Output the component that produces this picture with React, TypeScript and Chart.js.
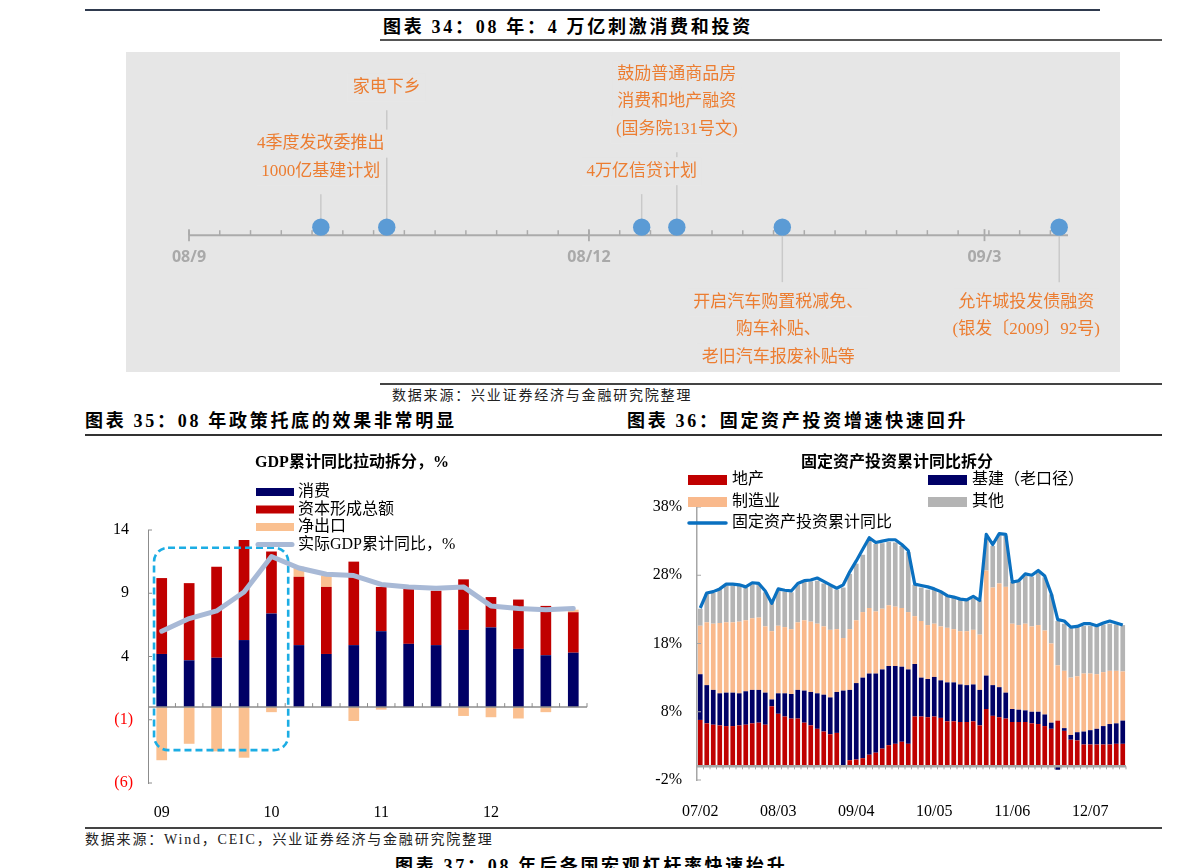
import React, { useEffect, useRef } from "react";
import { Chart, registerables } from "chart.js";

Chart.register(...registerables);

/* ================= Data: 图表34 timeline ================= */
const TIMELINE_START = "2008-09-01";
const TIMELINE_END = "2009-03-20";
const TIMELINE_MAJOR_DATES = ["2008-09-01", "2008-12-01", "2009-03-01"];
const TIMELINE_MAJOR_LABELS = ["08/9", "08/12", "09/3"];
const EVENT_DATES = ["2008-10-01", "2008-10-16", "2008-12-13", "2008-12-21", "2009-01-14", "2009-03-18"];
const EVENT_TEXTS = [
  ["4季度发改委推出", "1000亿基建计划"],
  ["家电下乡"],
  ["4万亿信贷计划"],
  ["鼓励普通商品房", "消费和地产融资", "(国务院131号文)"],
  ["开启汽车购置税减免、", "购车补贴、", "老旧汽车报废补贴等"],
  ["允许城投发债融资", "(银发〔2009〕92号)"],
];

/* ================= Data: 图表35 GDP ================= */
const GDP_QUARTERS = [
  "09Q1", "09Q2", "09Q3", "09Q4", "10Q1", "10Q2", "10Q3", "10Q4",
  "11Q1", "11Q2", "11Q3", "11Q4", "12Q1", "12Q2", "12Q3", "12Q4",
];
const CONSUMPTION = [4.2, 3.7, 3.9, 5.3, 7.4, 4.9, 4.2, 4.9, 6.0, 5.0, 4.9, 6.1, 6.3, 4.6, 4.1, 4.3];
const CAPITAL = [6.0, 6.1, 7.2, 7.9, 4.9, 5.4, 5.3, 6.6, 3.5, 4.4, 4.3, 4.0, 2.4, 3.9, 3.9, 3.2];
const NET_EXPORT = [-4.2, -2.9, -3.5, -4.0, -0.4, 0.8, 0.9, -1.1, -0.2, 0, 0, -0.7, -0.8, -0.9, -0.4, 0.2];
const GDP_YOY = [6.0, 7.0, 7.6, 9.1, 11.9, 11.0, 10.5, 10.4, 9.7, 9.5, 9.4, 9.5, 8.0, 7.8, 7.7, 7.8];
const GDP_Y_MIN = -6;
const GDP_Y_MAX = 14;
const GDP_Y_STEP = 5;
const GDP_HIGHLIGHT = { first: 0, last: 4, top: 12.6, bottom: -3.4 };

/* ================= Data: 图表36 FAI ================= */
const FAI_YEARS = ["07", "08", "09", "10", "11", "12"];
const FAI_MONTHS = ["02", "03", "04", "05", "06", "07", "08", "09", "10", "11", "12"];
const FAI_LABELS = FAI_YEARS.flatMap((y) => FAI_MONTHS.map((m) => `${y}/${m}`));
const REAL_ESTATE = [
  6.8, 6.3, 6.1, 6.0, 5.9, 5.9, 6.0, 6.1, 6.3, 6.4, 6.1,
  8.8, 7.7, 7.3, 7.0, 7.0, 6.4, 6.0, 5.5, 5.1, 4.7, 4.9,
  0.1, 0.9, 1.0, 1.2, 1.7, 2.0, 2.6, 3.1, 3.3, 3.6, 3.3,
  7.3, 7.3, 7.2, 7.3, 7.1, 6.6, 6.6, 6.5, 6.5, 6.6, 6.0,
  8.4, 7.4, 7.2, 7.0, 6.5, 6.5, 6.5, 6.3, 6.2, 5.9, 5.5,
  6.7, 5.2, 3.9, 3.8, 3.2, 3.2, 3.2, 3.2, 3.2, 3.3, 3.3,
];
const INFRA = [
  6.7, 5.6, 5.1, 4.7, 4.9, 4.9, 4.7, 4.9, 4.9, 4.8, 4.7,
  1.0, 3.0, 3.4, 3.6, 4.2, 4.7, 4.9, 5.2, 5.4, 5.4, 6.0,
  11.0, 10.3, 11.2, 11.8, 11.9, 11.6, 11.6, 11.6, 11.4, 11.0, 10.9,
  7.7, 5.7, 5.6, 5.8, 5.5, 5.7, 5.7, 5.5, 5.4, 5.4, 5.2,
  4.9, 4.5, 4.4, 3.8, 1.9, 1.8, 1.7, 1.7, 1.8, 1.7, 0.9,
  -0.5, 0.4, 0.7, 1.2, 1.9, 2.1, 2.3, 2.7, 3.0, 3.0, 3.4,
];
const MANUFACTURING = [
  7.1, 9.2, 9.7, 10.3, 10.3, 10.3, 10.5, 10.4, 10.5, 10.6, 9.7,
  10.0, 9.9, 9.7, 9.5, 9.9, 10.3, 10.3, 10.2, 10.0, 9.9, 9.2,
  7.7, 8.9, 9.2, 9.6, 9.6, 9.1, 8.9, 8.9, 8.7, 8.6, 8.4,
  7.0, 8.3, 7.9, 7.8, 7.9, 8.0, 7.8, 7.8, 7.9, 8.0, 8.1,
  15.4, 14.3, 15.2, 15.5, 12.5, 12.4, 12.7, 12.5, 12.7, 12.3, 11.6,
  8.1, 8.4, 8.4, 8.2, 8.5, 8.3, 8.0, 7.9, 7.8, 7.7, 7.2,
];
const OTHER = [
  2.5, 4.2, 4.5, 5.0, 5.4, 5.4, 5.4, 4.8, 5.0, 4.9, 5.0,
  4.3, 5.3, 5.2, 5.4, 5.5, 5.6, 5.9, 6.3, 6.3, 6.5, 5.8,
  7.4, 8.1, 8.3, 8.4, 10.0, 9.9, 9.6, 9.3, 9.4, 9.1, 8.8,
  4.6, 4.9, 5.2, 5.0, 5.0, 4.7, 4.7, 4.7, 4.6, 4.6, 5.0,
  4.7, 6.1, 7.2, 7.5, 6.1, 6.4, 7.0, 7.3, 7.7, 7.8, 7.2,
  6.5, 6.9, 7.3, 7.2, 7.0, 7.0, 7.0, 7.0, 6.9, 6.8, 6.8,
];
const FAI_YOY = [
  23.2, 25.4, 25.6, 26.0, 26.7, 26.7, 26.6, 26.3, 26.9, 26.8, 25.7,
  23.9, 26.0, 25.8, 25.7, 26.8, 27.2, 27.3, 27.6, 27.1, 26.6, 26.1,
  26.6, 28.5, 30.1, 31.8, 33.5, 32.8, 33.0, 33.2, 33.2, 32.5, 31.6,
  26.7, 26.5, 26.3, 26.0, 25.6, 25.0, 24.8, 24.5, 24.4, 24.9, 24.3,
  34.0, 32.5, 34.1, 34.0, 27.0, 27.2, 28.2, 28.0, 28.7, 27.9, 25.3,
  21.5, 21.3, 20.4, 20.5, 20.9, 20.9, 20.6, 21.0, 21.3, 21.0, 20.7,
];
const FAI_Y_MIN = -2;
const FAI_Y_MAX = 38;
const FAI_Y_STEP = 10;
const FAI_LABEL_EVERY = 12;

/* ================= Styles ================= */
const SERIF = "'Liberation Serif', 'Noto Sans CJK SC', serif";
const BOX_BG = "#E6E6E6";
const ORANGE = "#EC7D31";
const DOT = "#5B9BD5";
const NAVY = "#000066";
const RED = "#C00000";
const PEACH = "#FAC090";
const PEACH2 = "#F9B98C";
const GRAY = "#B4B4B4";
const GDP_LINE = "#A8B9D6";
const FAI_LINE = "#0A70C0";

const EVENT_LAYOUT = [
  { side: "up", offset: 56, dx: 0 },
  { side: "up", offset: 140, dx: 0 },
  { side: "up", offset: 56, dx: 0 },
  { side: "up", offset: 98, dx: 0 },
  { side: "down", offset: 75, dx: -4 },
  { side: "down", offset: 75, dx: -33 },
];
const EVENT_LINE_H = 27.5;

/* ================= Timeline ================= */
function TimelineChart() {
  const ref = useRef<HTMLCanvasElement | null>(null);
  useEffect(() => {
    if (!ref.current) return;
    const t0 = Date.parse(TIMELINE_START);
    const toDay = (d: string) => (Date.parse(d) - t0) / 86400000;
    const endDay = toDay(TIMELINE_END);

    const decor = {
      id: "timelineDecor",
      beforeDatasetsDraw(chart: any) {
        const { ctx } = chart;
        const xs = chart.scales.x;
        const ys = chart.scales.y;
        const dotY = ys.getPixelForValue(0);
        const lineY = dotY + 8;
        ctx.save();
        ctx.strokeStyle = "#ABABAB";
        ctx.lineWidth = 2;
        ctx.beginPath();
        ctx.moveTo(xs.getPixelForValue(0), lineY);
        ctx.lineTo(xs.getPixelForValue(endDay), lineY);
        ctx.stroke();
        ctx.lineWidth = 1.5;
        for (let d = 0; d <= endDay; d += 7) {
          const x = xs.getPixelForValue(d);
          ctx.beginPath();
          ctx.moveTo(x, lineY - 5);
          ctx.lineTo(x, lineY);
          ctx.stroke();
        }
        ctx.font = "bold 16px 'Open Sans', 'Noto Sans', sans-serif";
        ctx.fillStyle = "#A9A9A9";
        ctx.textAlign = "center";
        ctx.textBaseline = "middle";
        TIMELINE_MAJOR_DATES.forEach((dt, i) => {
          const x = xs.getPixelForValue(toDay(dt));
          ctx.lineWidth = 1.8;
          ctx.beginPath();
          ctx.moveTo(x, lineY - 6);
          ctx.lineTo(x, lineY + 6);
          ctx.stroke();
          ctx.fillText(TIMELINE_MAJOR_LABELS[i], x, lineY + 22);
        });
        ctx.strokeStyle = "#C9C9C9";
        ctx.lineWidth = 1.5;
        EVENT_DATES.forEach((dt, i) => {
          const lay = EVENT_LAYOUT[i];
          const x = xs.getPixelForValue(toDay(dt));
          const yEnd = lay.side === "up" ? dotY - lay.offset + 23 : dotY + lay.offset - 20;
          ctx.beginPath();
          ctx.moveTo(x, dotY);
          ctx.lineTo(x, yEnd);
          ctx.stroke();
        });
        ctx.font = `17px ${SERIF}`;
        EVENT_TEXTS.forEach((lines, i) => {
          const lay = EVENT_LAYOUT[i];
          const cx = xs.getPixelForValue(toDay(EVENT_DATES[i])) + lay.dx;
          const n = lines.length;
          lines.forEach((t, j) => {
            const cy = lay.side === "up"
              ? dotY - lay.offset - (n - 1 - j) * EVENT_LINE_H
              : dotY + lay.offset + j * EVENT_LINE_H;
            const w = ctx.measureText(t).width;
            ctx.fillStyle = BOX_BG;
            ctx.fillRect(cx - w / 2 - 5, cy - 14, w + 10, 28);
            ctx.fillStyle = ORANGE;
            ctx.fillText(t, cx, cy);
          });
        });
        ctx.restore();
      },
    };

    const chart = new Chart(ref.current, {
      type: "scatter",
      data: {
        datasets: [
          {
            data: EVENT_DATES.map((d) => ({ x: toDay(d), y: 0 })),
            pointRadius: 8.7,
            pointHoverRadius: 8.7,
            pointBackgroundColor: DOT,
            pointBorderWidth: 0,
            showLine: false,
          },
        ],
      },
      options: {
        animation: false,
        responsive: false,
        devicePixelRatio: 1,
        events: [],
        layout: { padding: { left: 63, right: 52, top: 39, bottom: 0 } },
        scales: {
          x: { type: "linear", display: false, min: 0, max: endDay },
          y: { type: "linear", display: false, min: -1, max: 1 },
        },
        plugins: { legend: { display: false }, tooltip: { enabled: false } },
      },
      plugins: [decor],
    } as any);
    return () => chart.destroy();
  }, []);
  return (
    <canvas
      ref={ref}
      width={994}
      height={320}
      style={{ position: "absolute", left: 126, top: 52, width: 994, height: 320, background: BOX_BG }}
    />
  );
}

/* ================= GDP chart ================= */
function GdpChart() {
  const ref = useRef<HTMLCanvasElement | null>(null);
  useEffect(() => {
    if (!ref.current) return;
    const decor = {
      id: "gdpDecor",
      beforeDatasetDraw(chart: any, args: any) {
        if (args.index !== 3) return;
        const { ctx } = chart;
        const xs = chart.scales.x;
        const ys = chart.scales.y;
        const cw = xs.getPixelForValue(1) - xs.getPixelForValue(0);
        const x1 = xs.getPixelForValue(GDP_HIGHLIGHT.first) - cw * 0.28;
        const x2 = xs.getPixelForValue(GDP_HIGHLIGHT.last) + cw * 0.61;
        const y1 = ys.getPixelForValue(GDP_HIGHLIGHT.top);
        const y2 = ys.getPixelForValue(GDP_HIGHLIGHT.bottom);
        ctx.save();
        ctx.setLineDash([7, 4]);
        ctx.strokeStyle = "#1CADE4";
        ctx.lineWidth = 2.6;
        ctx.beginPath();
        ctx.roundRect(x1, y1, x2 - x1, y2 - y1, 14);
        ctx.stroke();
        ctx.restore();
      },
      afterDatasetsDraw(chart: any) {
        const { ctx, chartArea } = chart;
        const xs = chart.scales.x;
        const ys = chart.scales.y;
        const y0 = ys.getPixelForValue(0);
        const cw = xs.getPixelForValue(1) - xs.getPixelForValue(0);
        ctx.save();
        ctx.strokeStyle = "#8C8C8C";
        ctx.lineWidth = 1.5;
        ctx.beginPath();
        ctx.moveTo(chartArea.left, y0);
        ctx.lineTo(chartArea.right, y0);
        ctx.stroke();
        ctx.lineWidth = 1;
        for (let i = 0; i < GDP_QUARTERS.length; i++) {
          const x = xs.getPixelForValue(i) + cw / 2;
          ctx.beginPath();
          ctx.moveTo(x, y0);
          ctx.lineTo(x, y0 - 4);
          ctx.stroke();
        }
        ys.ticks.forEach((t: any) => {
          const y = ys.getPixelForValue(t.value);
          ctx.beginPath();
          ctx.moveTo(chartArea.left, y);
          ctx.lineTo(chartArea.left + 4, y);
          ctx.stroke();
        });
        ctx.restore();
      },
      afterDraw(chart: any) {
        const { ctx } = chart;
        ctx.save();
        ctx.textBaseline = "middle";
        ctx.fillStyle = "#000";
        ctx.textAlign = "center";
        ctx.font = `bold 16px ${SERIF}`;
        ctx.fillText("GDP累计同比拉动拆分，%", 267, 23);
        const items = [
          { kind: "box", color: NAVY, text: "消费" },
          { kind: "box", color: RED, text: "资本形成总额" },
          { kind: "box", color: PEACH, text: "净出口" },
          { kind: "line", color: GDP_LINE, text: "实际GDP累计同比，%" },
        ];
        ctx.textAlign = "left";
        ctx.font = `16px ${SERIF}`;
        items.forEach((it, i) => {
          const y = 52 + i * 17.5;
          if (it.kind === "box") {
            ctx.fillStyle = it.color;
            ctx.fillRect(171, y - 4, 38, 8);
          } else {
            ctx.strokeStyle = it.color;
            ctx.lineWidth = 5;
            ctx.lineCap = "round";
            ctx.beginPath();
            ctx.moveTo(173, y);
            ctx.lineTo(207, y);
            ctx.stroke();
          }
          ctx.fillStyle = "#000";
          ctx.fillText(it.text, 213, y);
        });
        ctx.restore();
      },
    };

    const barCommon = { stack: "gdp", order: 1, barPercentage: 0.39, categoryPercentage: 1, borderWidth: 0 };
    const chart = new Chart(ref.current, {
      type: "bar",
      data: {
        labels: GDP_QUARTERS,
        datasets: [
          { type: "bar", label: "消费", data: CONSUMPTION, backgroundColor: NAVY, ...barCommon },
          { type: "bar", label: "资本形成总额", data: CAPITAL, backgroundColor: RED, ...barCommon },
          { type: "bar", label: "净出口", data: NET_EXPORT, backgroundColor: PEACH, ...barCommon },
          {
            type: "line",
            label: "实际GDP累计同比，%",
            data: GDP_YOY,
            borderColor: GDP_LINE,
            borderWidth: 5,
            pointRadius: 0,
            tension: 0,
            stack: "line",
            order: 0,
            borderCapStyle: "round",
            borderJoinStyle: "round",
          },
        ],
      },
      options: {
        animation: false,
        responsive: false,
        devicePixelRatio: 1,
        events: [],
        layout: { padding: { left: 0, right: 13, top: 90, bottom: 0 } },
        scales: {
          x: {
            stacked: true,
            grid: { display: false },
            border: { display: false },
            afterFit: (s: any) => { s.height = 42; },
            ticks: {
              autoSkip: false,
              maxRotation: 0,
              padding: 12,
              color: "#000",
              font: { family: SERIF, size: 16 },
              callback: function (this: any, v: any) {
                const l = this.getLabelForValue(v) as string;
                return l.endsWith("Q1") ? l.slice(0, 2) : "";
              },
            },
          },
          y: {
            stacked: true,
            min: GDP_Y_MIN,
            max: GDP_Y_MAX,
            grid: { display: false, drawTicks: false },
            border: { display: true, color: "#8C8C8C", width: 1 },
            afterFit: (s: any) => { s.width = 63; },
            ticks: {
              stepSize: GDP_Y_STEP,
              padding: 15,
              font: { family: SERIF, size: 16 },
              color: (c: any) => (c.tick && c.tick.value < 0 ? "#FF0000" : "#000"),
              callback: (v: any) => (v < 0 ? `(${-v})` : `${v} `),
            },
          },
        },
        plugins: { legend: { display: false }, tooltip: { enabled: false } },
      },
      plugins: [decor],
    } as any);
    return () => chart.destroy();
  }, []);
  return (
    <canvas
      ref={ref}
      width={515}
      height={385}
      style={{ position: "absolute", left: 85, top: 440, width: 515, height: 385 }}
    />
  );
}

/* ================= FAI chart ================= */
function FaiChart() {
  const ref = useRef<HTMLCanvasElement | null>(null);
  useEffect(() => {
    if (!ref.current) return;
    const decor = {
      id: "faiDecor",
      beforeDatasetDraw(chart: any, args: any) {
        if (args.index !== 4) return;
        const { ctx, chartArea } = chart;
        const xs = chart.scales.x;
        const ys = chart.scales.y;
        const y0 = ys.getPixelForValue(0);
        const cw = xs.getPixelForValue(1) - xs.getPixelForValue(0);
        ctx.save();
        ctx.strokeStyle = "#A6A6A6";
        ctx.lineWidth = 2.5;
        ctx.beginPath();
        ctx.moveTo(chartArea.left, y0);
        ctx.lineTo(chartArea.right, y0);
        ctx.stroke();
        ctx.lineWidth = 1;
        for (let i = 0; i < FAI_LABELS.length; i++) {
          const x = xs.getPixelForValue(i) + cw / 2;
          ctx.beginPath();
          ctx.moveTo(x, y0);
          ctx.lineTo(x, y0 + 3);
          ctx.stroke();
        }
        ys.ticks.forEach((t: any) => {
          const y = ys.getPixelForValue(t.value);
          ctx.beginPath();
          ctx.moveTo(chartArea.left, y);
          ctx.lineTo(chartArea.left + 4, y);
          ctx.stroke();
        });
        ctx.restore();
      },
      afterDraw(chart: any) {
        const { ctx } = chart;
        ctx.save();
        ctx.textBaseline = "middle";
        ctx.fillStyle = "#000";
        ctx.textAlign = "center";
        ctx.font = `bold 16px ${SERIF}`;
        ctx.fillText("固定资产投资累计同比拆分", 287, 23);
        const items = [
          { kind: "box", color: RED, text: "地产", col: 0, row: 0 },
          { kind: "box", color: NAVY, text: "基建（老口径）", col: 1, row: 0 },
          { kind: "box", color: PEACH2, text: "制造业", col: 0, row: 1 },
          { kind: "box", color: GRAY, text: "其他", col: 1, row: 1 },
          { kind: "line", color: FAI_LINE, text: "固定资产投资累计同比", col: 0, row: 2 },
        ];
        const cols = [78, 318];
        const rows = [40, 62, 83];
        ctx.textAlign = "left";
        ctx.font = `16px ${SERIF}`;
        items.forEach((it) => {
          const x = cols[it.col];
          const y = rows[it.row];
          if (it.kind === "box") {
            ctx.fillStyle = it.color;
            ctx.fillRect(x, y - 5, 39, 10);
          } else {
            ctx.strokeStyle = it.color;
            ctx.lineWidth = 3.5;
            ctx.lineCap = "round";
            ctx.beginPath();
            ctx.moveTo(x + 1, y);
            ctx.lineTo(x + 38, y);
            ctx.stroke();
          }
          ctx.fillStyle = "#000";
          ctx.fillText(it.text, x + 44, y);
        });
        ctx.restore();
      },
    };

    const barCommon = { stack: "fai", order: 1, barPercentage: 0.72, categoryPercentage: 1, borderWidth: 0 };
    const chart = new Chart(ref.current, {
      type: "bar",
      data: {
        labels: FAI_LABELS,
        datasets: [
          { type: "bar", label: "地产", data: REAL_ESTATE, backgroundColor: RED, ...barCommon },
          { type: "bar", label: "基建（老口径）", data: INFRA, backgroundColor: NAVY, ...barCommon },
          { type: "bar", label: "制造业", data: MANUFACTURING, backgroundColor: PEACH2, ...barCommon },
          { type: "bar", label: "其他", data: OTHER, backgroundColor: GRAY, ...barCommon },
          {
            type: "line",
            label: "固定资产投资累计同比",
            data: FAI_YOY,
            borderColor: FAI_LINE,
            borderWidth: 3.2,
            pointRadius: 0,
            tension: 0,
            stack: "line",
            order: 0,
            borderJoinStyle: "round",
          },
        ],
      },
      options: {
        animation: false,
        responsive: false,
        devicePixelRatio: 1,
        events: [],
        layout: { padding: { left: 0, right: 14, top: 67, bottom: 0 } },
        scales: {
          x: {
            stacked: true,
            grid: { display: false },
            border: { display: false },
            afterFit: (s: any) => { s.height = 45; },
            ticks: {
              autoSkip: false,
              maxRotation: 0,
              padding: 14,
              color: "#000",
              font: { family: SERIF, size: 16 },
              callback: function (this: any, v: any, i: number) {
                return i % FAI_LABEL_EVERY === 0 ? this.getLabelForValue(v) : "";
              },
            },
          },
          y: {
            stacked: true,
            min: FAI_Y_MIN,
            max: FAI_Y_MAX,
            grid: { display: false, drawTicks: false },
            border: { display: true, color: "#A6A6A6", width: 1.5 },
            afterFit: (s: any) => { s.width = 87; },
            ticks: {
              stepSize: FAI_Y_STEP,
              padding: 15,
              color: "#000",
              font: { family: SERIF, size: 16 },
              callback: (v: any) => `${v}%`,
            },
          },
        },
        plugins: { legend: { display: false }, tooltip: { enabled: false } },
      },
      plugins: [decor],
    } as any);
    return () => chart.destroy();
  }, []);
  return (
    <canvas
      ref={ref}
      width={530}
      height={385}
      style={{ position: "absolute", left: 610, top: 440, width: 530, height: 385 }}
    />
  );
}

/* ================= Page ================= */
const headStyle: React.CSSProperties = {
  position: "absolute",
  fontFamily: SERIF,
  fontWeight: "bold",
  fontSize: 18,
  lineHeight: "20px",
  letterSpacing: "2.7px",
  color: "#000",
  whiteSpace: "nowrap",
};
const srcStyle: React.CSSProperties = {
  position: "absolute",
  fontFamily: SERIF,
  fontSize: 14,
  lineHeight: "16px",
  letterSpacing: "1.8px",
  color: "#222",
  whiteSpace: "nowrap",
};
const rule = (left: number, top: number, width: number, h: number, color: string): React.CSSProperties => ({
  position: "absolute",
  left,
  top,
  width,
  height: h,
  background: color,
});

export default function App() {
  return (
    <div
      style={{
        position: "absolute",
        left: 0,
        top: 0,
        width: 1191,
        height: 868,
        overflow: "hidden",
        background: "#fff",
      }}
    >
      <div style={rule(85, 9, 1015, 2, "#2F3A4E")} />
      <div style={{ ...headStyle, left: 383, top: 17 }}>图表 34：08 年：4 万亿刺激消费和投资</div>
      <div style={rule(380, 39, 782, 2, "#555")} />
      <TimelineChart />
      <div style={rule(380, 383, 782, 2, "#444")} />
      <div style={{ ...srcStyle, left: 392, top: 388 }}>数据来源：兴业证券经济与金融研究院整理</div>
      <div style={{ ...headStyle, left: 85, top: 411 }}>图表 35：08 年政策托底的效果非常明显</div>
      <div style={{ ...headStyle, left: 627, top: 411 }}>图表 36：固定资产投资增速快速回升</div>
      <div style={rule(85, 434, 1077, 2, "#333")} />
      <GdpChart />
      <FaiChart />
      <div style={rule(85, 827, 1077, 2, "#444")} />
      <div style={{ ...srcStyle, left: 85, top: 832, letterSpacing: "1.8px" }}>
        数据来源：Wind，CEIC，兴业证券经济与金融研究院整理
      </div>
      <div style={{ ...headStyle, left: 395, top: 856 }}>图表 37：08 年后各国宏观杠杆率快速抬升</div>
    </div>
  );
}
